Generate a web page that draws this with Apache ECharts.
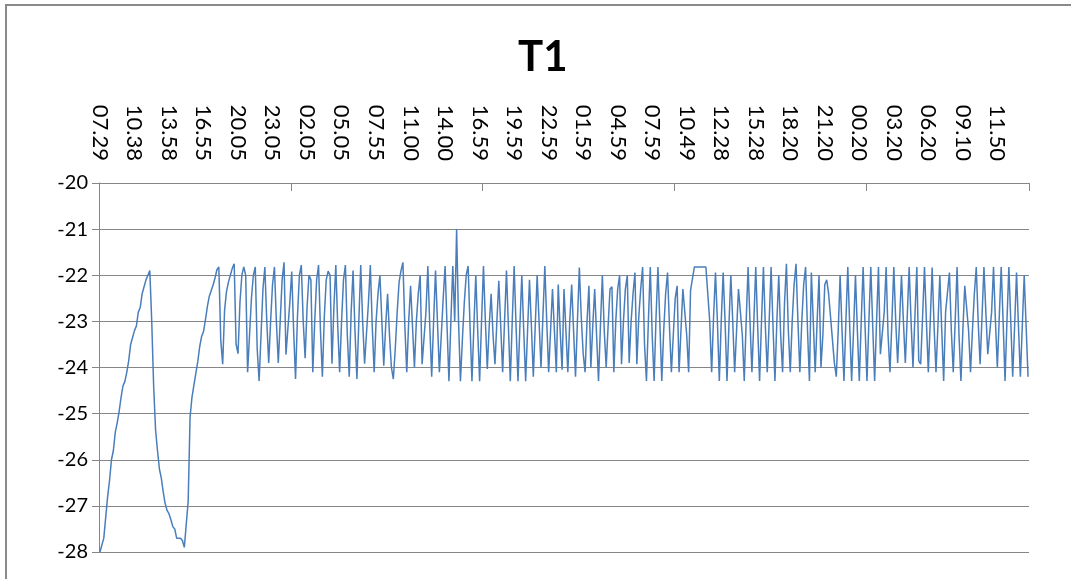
<!DOCTYPE html>
<html>
<head>
<meta charset="utf-8">
<title>T1</title>
<script src="https://cdn.jsdelivr.net/npm/echarts/dist/echarts.min.js"></script>
<style>
  html, body { margin: 0; padding: 0; background: #ffffff; }
  #chart { width: 1071px; height: 579px; }
</style>
</head>
<body>
<div id="chart"></div>
<script>
// Time labels shown on the top axis, one every LABEL_STEP samples
const tickLabels = [
  '07.29', '10.38', '13.58', '16.55', '20.05', '23.05', '02.05', '05.05', '07.55',
  '11.00', '14.00', '16.59', '19.59', '22.59', '01.59', '04.59', '07.59', '10.49',
  '12.28', '15.28', '18.20', '21.20', '00.20', '03.20', '06.20', '09.10', '11.50'
];
const LABEL_STEP = 18;
const TICK_STEP = 100;

// T1 readings (°C), 10-minute samples
const pullDown = [
  -28.0, -28.0, -27.7, -27.25, -26.8, -26.45, -26.0, -25.8, -25.4, -25.2,
  -24.95, -24.65, -24.4, -24.3, -24.1, -23.85, -23.5, -23.35, -23.2, -23.1,
  -22.8, -22.7, -22.4, -22.25, -22.1, -22.0, -21.9, -23.0, -24.4, -25.35,
  -25.8, -26.2, -26.4, -26.7, -26.95, -27.1, -27.17, -27.3, -27.45, -27.5,
  -27.7, -27.7, -27.7, -27.75, -27.9, -27.92, -26.9, -25.07, -24.64, -24.38,
  -24.13, -23.88, -23.55, -23.33, -23.22, -22.97, -22.68, -22.46, -22.43, -22.21,
  -22.06, -21.88
];
const cycles1 = [
  -21.82, -23.4, -23.93, -22.75, -22.35, -22.15, -22.0, -21.85,
  -21.75, -23.5, -23.7, -22.6, -22.0, -21.82, -22.0, -24.1, -23.3, -22.5,
  -22.0, -21.82, -23.6, -24.29, -23.3, -22.3, -21.82, -23.0, -23.9, -23.0,
  -22.2, -21.82, -23.0, -23.9, -23.0, -22.1, -21.72, -23.72, -23.72, -22.6,
  -21.92, -23.2, -24.25, -22.9, -22.0, -21.78, -23.0, -23.8, -22.7, -22.0,
  -22.1, -24.1, -23.0, -22.1, -21.78, -23.2, -24.2, -22.9, -22.1, -21.91,
  -22.0, -23.92, -22.7, -21.78, -23.1, -24.1, -23.0, -22.1, -21.78, -23.3,
  -24.2, -22.8, -21.9, -23.2, -24.25, -23.0, -21.78, -23.0, -23.92, -23.92,
  -22.6, -21.78, -23.1, -24.1, -23.0, -22.4, -22.0, -22.0, -23.96, -23.1,
  -22.4, -23.3, -24.0, -24.25, -23.6, -22.8, -22.15, -21.9, -21.72, -23.1
];
const cycles2 = [
  -24.1, -23.0, -22.23, -22.23, -24.0, -23.0, -22.4, -22.0, -23.93, -23.93,
  -22.8, -21.8, -23.1, -24.2, -23.0, -21.9, -23.0, -24.1, -23.3, -22.5,
  -21.8, -23.1, -24.3, -23.0, -21.8, -23.0, -21.0, -23.0, -24.3, -23.4,
  -22.6, -22.0, -21.8, -23.1, -24.3, -23.1, -22.0, -23.2, -24.3, -23.0,
  -21.8, -23.0, -24.03, -23.1, -22.4, -23.3, -23.93, -23.0, -22.12, -23.1,
  -24.1, -23.0, -21.9, -23.1, -24.3, -23.0, -21.8, -23.1, -24.3, -23.1,
  -22.0, -23.2, -24.3, -23.2, -22.1, -23.1, -24.2, -23.1, -22.0, -23.0,
  -24.0, -22.9, -21.8, -23.0, -24.1, -23.2, -22.3, -23.2, -24.1, -22.2,
  -23.2, -24.05, -22.3, -23.2, -24.1, -23.0, -22.2, -23.2, -24.2, -23.0
];
const cycles3 = [
  -21.83, -22.9, -23.7, -24.1, -23.0, -22.23, -24.0, -23.1, -22.3, -23.3,
  -24.29, -23.1, -22.0, -23.2, -24.0, -23.1, -22.3, -22.25, -24.1, -23.0,
  -22.3, -22.0, -23.93, -23.0, -22.3, -22.0, -23.9, -23.0, -22.4, -21.94,
  -23.93, -22.9, -22.3, -21.82, -23.5, -24.29, -23.0, -21.82, -23.3, -24.29,
  -22.9, -21.82, -21.82, -24.29, -23.2, -22.4, -21.94, -23.1, -24.1, -23.3,
  -22.5, -22.23, -24.1, -23.2, -22.3, -22.3, -23.3, -24.1, -22.33, -22.33,
  -21.82, -21.82, -21.82, -21.82, -21.82, -21.82, -21.82, -21.82, -23.0, -24.1,
  -22.9, -21.94, -23.0, -24.29, -23.0, -21.94, -23.0, -24.29, -23.1, -22.0,
  -23.0, -24.1, -23.2, -22.3, -22.3, -23.3, -24.29, -23.0, -21.82, -23.0,
  -24.1, -23.0, -21.82, -23.1, -24.29, -23.0, -21.82, -23.1, -24.1, -23.0
];
const cycles4 = [
  -21.82, -23.1, -24.29, -23.0, -22.0, -23.3, -24.1, -22.6, -21.75, -23.2,
  -24.1, -23.0, -22.2, -21.75, -23.0, -24.1, -23.0, -22.2, -21.82, -23.2,
  -24.29, -21.94, -23.0, -24.1, -23.0, -22.0, -24.0, -23.3, -22.2, -22.1,
  -22.4, -22.9, -23.4, -23.9, -24.2, -23.2, -22.0, -23.2, -24.29, -23.0,
  -21.82, -23.1, -24.29, -23.2, -22.0, -23.2, -24.29, -23.0, -21.82, -23.1,
  -24.29, -23.0, -21.82, -23.1, -24.29, -23.0, -21.82, -23.71, -23.71, -22.8,
  -21.82, -23.3, -24.1, -23.0, -21.82, -23.0, -23.9, -23.0, -22.0, -23.0,
  -23.9, -22.9, -21.82, -23.0, -24.0, -22.9, -21.82, -23.85, -23.93, -22.9,
  -21.82, -23.0, -24.1, -23.0, -21.83, -23.1, -24.1, -23.1, -22.0, -23.2,
  -24.29, -22.8, -22.8, -21.94, -23.2, -24.1, -23.0, -21.82, -23.3, -24.29,
  -23.2, -22.23, -22.23, -23.2, -24.1, -23.2, -22.4, -21.82, -23.0, -23.93,
  -22.9, -21.82, -22.8, -23.71, -23.71, -22.8, -21.82, -23.0, -24.0, -22.9,
  -21.82, -23.0, -24.29, -23.0, -21.82, -23.0, -24.2, -23.1, -21.94, -23.1,
  -24.2, -23.1, -22.0, -23.1, -24.2
];

const temps = [].concat(pullDown, cycles1, cycles2, cycles3, cycles4);
const categories = temps.map((v, i) =>
  i % LABEL_STEP === 0 && tickLabels[i / LABEL_STEP] ? tickLabels[i / LABEL_STEP] : '');

const FONT = 'Lato, "Open Sans", "Liberation Sans", sans-serif';
const GRID_GREY = '#868686';

const chart = echarts.init(document.getElementById('chart'), null, { renderer: 'canvas' });
chart.setOption({
  animation: false,
  backgroundColor: '#ffffff',
  title: {
    text: 'T1',
    left: 513,
    top: 31,
    textStyle: { fontFamily: FONT, fontSize: 42, fontWeight: 'bold', color: '#000000' }
  },
  graphic: [{
    type: 'rect',
    silent: true,
    shape: { x: 6, y: 5, width: 1200, height: 700 },
    style: { fill: 'none', stroke: '#8a8a8a', lineWidth: 2 }
  }],
  grid: { left: 99, right: 42, top: 183, bottom: 27, containLabel: false, outerBoundsMode: 'none' },
  xAxis: {
    type: 'category',
    position: 'top',
    data: categories,
    boundaryGap: true,
    axisLine: { show: true, onZero: false, lineStyle: { color: GRID_GREY, width: 1 } },
    axisTick: { show: true, inside: true, length: 8, interval: TICK_STEP - 1,
                lineStyle: { color: GRID_GREY, width: 1 } },
    axisLabel: { interval: LABEL_STEP - 1, rotate: 90, margin: 22, fontSize: 22,
                 fontFamily: FONT, color: '#000000' },
    splitLine: { show: false }
  },
  yAxis: {
    type: 'value',
    min: -28,
    max: -20,
    interval: 1,
    axisLine: { show: true, lineStyle: { color: GRID_GREY, width: 1 } },
    axisTick: { show: true, length: 7, lineStyle: { color: GRID_GREY, width: 1 } },
    axisLabel: { margin: 11, fontSize: 20, fontFamily: FONT, color: '#000000' },
    splitLine: { show: true, lineStyle: { color: GRID_GREY, width: 1 } }
  },
  series: [{
    name: 'T1',
    type: 'line',
    data: temps,
    showSymbol: false,
    symbol: 'none',
    lineStyle: { color: '#4A7EBB', width: 1.5 },
    itemStyle: { color: '#4A7EBB' }
  }]
});
</script>
</body>
</html>
